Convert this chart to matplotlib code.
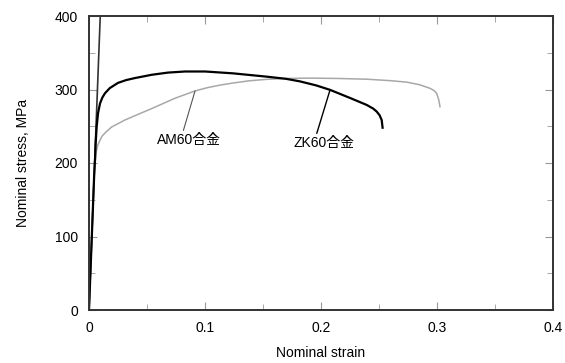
import matplotlib.pyplot as plt
from matplotlib.ticker import MultipleLocator

plt.rcParams['font.family'] = ['Liberation Sans', 'Noto Sans CJK JP']

# elastic reference line
elastic_strain = [0.0, 0.0097]
elastic_stress = [0, 400]

# ZK60 (black)
zk_strain = [0.0, 0.0045, 0.0052, 0.0058, 0.0066, 0.0078, 0.0095, 0.0115, 0.0138,
             0.018, 0.025, 0.032, 0.0397, 0.054, 0.068, 0.0828, 0.1, 0.124,
             0.153, 0.17, 0.182, 0.196, 0.2078, 0.225, 0.2394, 0.245, 0.248, 0.2505,
             0.2523, 0.2531]
zk_stress = [0, 185, 205, 228, 249, 268, 281, 289, 295,
             302, 309, 312.8, 315.6, 320, 323, 324.5, 324.5, 322,
             317.5, 314.5, 311, 305.5, 299.5, 288.5, 279, 274, 270, 265,
             258.5, 248]

# AM60 (gray)
am_strain = [0.0, 0.004, 0.0052, 0.0062, 0.0075, 0.0095, 0.011, 0.0145, 0.0195,
             0.031, 0.042, 0.054, 0.064, 0.074, 0.0914, 0.102, 0.113, 0.124, 0.138, 0.153,
             0.17, 0.19, 0.215, 0.2394, 0.26, 0.274, 0.285, 0.294, 0.2975, 0.2997,
             0.3015, 0.3026]
am_stress = [0, 165, 200, 215, 224, 231, 236, 242, 249,
             258.5, 266, 274, 281, 288, 298, 302.5, 306, 308.8, 311.8, 313.8,
             315, 315.5, 315, 314, 312, 310, 306.5, 301.6, 298.5, 294.8,
             286, 276.6]

fig = plt.figure(figsize=(5.65, 3.63), dpi=100)
ax = fig.add_axes([89 / 565, 53 / 363, 464 / 565, 294 / 363])

ax.plot(elastic_strain, elastic_stress, color='#333333', lw=1.2)
ax.plot(am_strain, am_stress, color='#a8a8a8', lw=1.1)
ax.plot(zk_strain, zk_stress, color='black', lw=1.6, solid_joinstyle='round')

ax.annotate('AM60合金', xy=(0.0914, 298), xytext=(0.0586, 231),
            fontsize=10, va='center', ha='left', color='black',
            arrowprops=dict(arrowstyle='-', color='#555555', lw=0.8,
                            shrinkA=0, shrinkB=0, relpos=(0.4, 1.0)))
ax.annotate('ZK60合金', xy=(0.2078, 299.5), xytext=(0.1767, 227),
            fontsize=10, va='center', ha='left', color='black',
            arrowprops=dict(arrowstyle='-', color='black', lw=1.0,
                            shrinkA=0, shrinkB=0, relpos=(0.36, 1.0)))

ax.set_xlim(0, 0.4)
ax.set_ylim(0, 400)
ax.xaxis.set_major_locator(MultipleLocator(0.1))
ax.xaxis.set_minor_locator(MultipleLocator(0.05))
ax.yaxis.set_major_locator(MultipleLocator(100))
ax.yaxis.set_minor_locator(MultipleLocator(50))
ax.set_xticks([0, 0.1, 0.2, 0.3, 0.4])
ax.set_xticklabels(['0', '0.1', '0.2', '0.3', '0.4'])
ax.tick_params(which='both', direction='in', top=True, right=True,
               color='#999999', labelsize=10, pad=8)
ax.tick_params(which='major', length=6)
ax.tick_params(which='minor', length=4)
for s in ax.spines.values():
    s.set_color('#333333')
    s.set_linewidth(1.4)

ax.set_xlabel('Nominal strain', fontsize=10, labelpad=8)
ax.set_ylabel('Nominal stress, MPa', fontsize=10, labelpad=18)

fig.savefig('out.png', dpi=100)
